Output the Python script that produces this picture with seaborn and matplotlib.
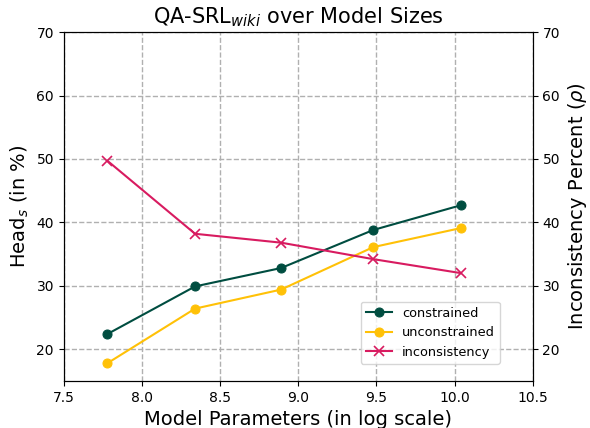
import seaborn as sns
import matplotlib.pyplot as plt
import pandas as pd

# dados
params = [7.78, 8.34, 8.89, 9.48, 10.04]
constrained = [22.4, 29.9, 32.8, 38.8, 42.7]
unconstrained = [17.8, 26.4, 29.4, 36.1, 39.1]
inconsistency = [49.7, 38.2, 36.8, 34.2, 32.0]

df = pd.DataFrame({'params': params, 'constrained': constrained,
                   'unconstrained': unconstrained, 'inconsistency': inconsistency})

fig, ax = plt.subplots(figsize=(5.9, 4.28), dpi=100)
fig.subplots_adjust(left=0.108, right=0.903, top=0.925, bottom=0.11)
ax2 = ax.twinx()

sns.lineplot(data=df, x='params', y='constrained', ax=ax, color='#004D40',
             marker='o', markersize=6.5, markeredgecolor='#004D40', label='constrained', legend=False)
sns.lineplot(data=df, x='params', y='unconstrained', ax=ax, color='#FFC107',
             marker='o', markersize=6.5, markeredgecolor='#FFC107', label='unconstrained', legend=False)
sns.lineplot(data=df, x='params', y='inconsistency', ax=ax2, color='#D81B60',
             marker='x', markersize=6.5, markeredgecolor='#D81B60', markeredgewidth=1.2,
             label='inconsistency', legend=False)

ax.set_xlim(7.5, 10.5)
ax.set_ylim(15, 70)
ax2.set_ylim(15, 70)
ax.set_xticks([7.5, 8.0, 8.5, 9.0, 9.5, 10.0, 10.5])
ax.set_yticks([20, 30, 40, 50, 60, 70])
ax2.set_yticks([20, 30, 40, 50, 60, 70])
ax.grid(True, linestyle='--', color='#b0b0b0', linewidth=1)

ax.set_title('QA-SRL$_{wiki}$ over Model Sizes', fontsize=15)
ax.set_xlabel('Model Parameters (in log scale)', fontsize=14)
ax.set_ylabel('Head$_s$ (in %)', fontsize=14)
ax2.set_ylabel(r'Inconsistency Percent ($\rho$)', fontsize=14)
for a in (ax, ax2):
    a.tick_params(labelsize=10)

h1, l1 = ax.get_legend_handles_labels()
h2, l2 = ax2.get_legend_handles_labels()
ax2.legend(h1 + h2, l1 + l2, loc='lower right', bbox_to_anchor=(0.93, 0.049),
           borderaxespad=0, fontsize=9.3)

plt.savefig('out.png', dpi=100)
